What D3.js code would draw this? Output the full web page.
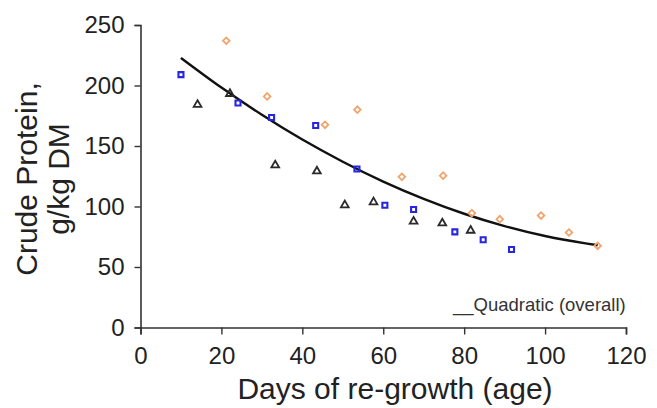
<!DOCTYPE html>
<html>
<head>
<meta charset="utf-8">
<script src="https://cdn.jsdelivr.net/npm/d3@7"></script>
<style>
  html, body { margin: 0; padding: 0; background: #fff; }
  svg { display: block; font-family: "Liberation Sans", Arial, sans-serif; }
</style>
</head>
<body>
<svg id="chart" width="657" height="408"></svg>
<script>
// ---- data ----
const squareDays   = [10.0, 24.1, 32.4, 43.3, 53.5, 60.4, 67.5, 77.7, 84.7, 91.7];
const squareCP     = [209, 185.5, 173.5, 167, 131, 101, 97.5, 79, 72.5, 64.5];

const diamondDays  = [21.2, 31.3, 45.6, 53.6, 64.6, 74.8, 81.9, 88.8, 99.0, 105.9, 113.0];
const diamondCP    = [237, 191, 167.5, 180, 124.5, 125.5, 94.5, 89.5, 92.5, 78.5, 67.5];

const triangleDays = [14.1, 22.1, 33.3, 43.6, 50.5, 57.6, 67.5, 74.6, 81.6];
const triangleCP   = [185, 194, 135, 130, 102, 104.5, 88.5, 87, 81];

const curveDays    = [10, 20, 30, 40, 50, 60, 70, 80, 90, 100, 110, 113];
const curveCP      = [222.8, 198.3, 175.8, 155.3, 137.0, 120.6, 106.3, 94.0, 83.8, 75.6, 69.5, 68.0];

const xTicks = [0, 20, 40, 60, 80, 100, 120];
const yTicks = [0, 50, 100, 150, 200, 250];

const xTitle = "Days of re-growth (age)";
const yTitleLines = ["Crude Protein,", "g/kg DM"];
const legendText = "__Quadratic (overall)";

// ---- drawing ----
const svg = d3.select("#chart");
const x = d3.scaleLinear().domain([0, 120]).range([140.5, 626]);
const y = d3.scaleLinear().domain([0, 250]).range([327.5, 25]);

const axisColor = "#333";

const xAxis = svg.append("g")
  .attr("transform", `translate(0,${y(0)})`)
  .call(d3.axisBottom(x).tickValues(xTicks).tickSize(7).tickPadding(12.5).tickSizeOuter(7));
const yAxis = svg.append("g")
  .attr("transform", `translate(${x(0)},0)`)
  .call(d3.axisLeft(y).tickValues(yTicks).tickSize(6).tickPadding(10).tickSizeOuter(6));

[xAxis, yAxis].forEach(g => {
  g.selectAll("path.domain").attr("stroke", axisColor).attr("stroke-width", 1.6);
  g.selectAll(".tick line").attr("stroke", axisColor).attr("stroke-width", 1.4);
  g.selectAll(".tick text")
    .attr("fill", "#222")
    .style("font-family", '"Liberation Sans", Arial, sans-serif')
    .style("font-size", "24px");
});

// quadratic curve
const curveData = curveDays.map((d, i) => [d, curveCP[i]]);
svg.append("path")
  .datum(curveData)
  .attr("fill", "none")
  .attr("stroke", "#111")
  .attr("stroke-width", 2.4)
  .attr("d", d3.line().x(d => x(d[0])).y(d => y(d[1])).curve(d3.curveMonotoneX));

// markers
function drawSeries(days, vals, type, size, color, sw, rot, dy) {
  const sym = d3.symbol().type(type).size(size);
  svg.append("g").selectAll("path")
    .data(days.map((d, i) => [d, vals[i]]))
    .join("path")
    .attr("d", sym)
    .attr("transform", d => `translate(${x(d[0])},${y(d[1]) + (dy || 0)}) rotate(${rot || 0})`)
    .attr("fill", "none")
    .attr("stroke", color)
    .attr("stroke-width", sw);
}
drawSeries(diamondDays, diamondCP, d3.symbolSquare, 22, "#f2a46e", 1.8, 45);
drawSeries(triangleDays, triangleCP, d3.symbolTriangle, 26, "#2a2a2a", 1.8, 0, 1);
drawSeries(squareDays, squareCP, d3.symbolSquare, 25, "#2626e0", 2.1);

// legend
svg.append("text")
  .attr("x", 453).attr("y", 311)
  .attr("fill", "#333")
  .style("font-size", "18.5px")
  .text(legendText);

// axis titles
svg.append("text")
  .attr("x", 395).attr("y", 399)
  .attr("text-anchor", "middle")
  .attr("fill", "#222")
  .style("font-size", "30px")
  .text(xTitle);

const yT = [37, 69];
yTitleLines.forEach((t, i) => {
  svg.append("text")
    .attr("transform", `translate(${yT[i]},179) rotate(-90)`)
    .attr("text-anchor", "middle")
    .attr("fill", "#222")
    .style("font-size", "30px")
    .text(t);
});
</script>
</body>
</html>
